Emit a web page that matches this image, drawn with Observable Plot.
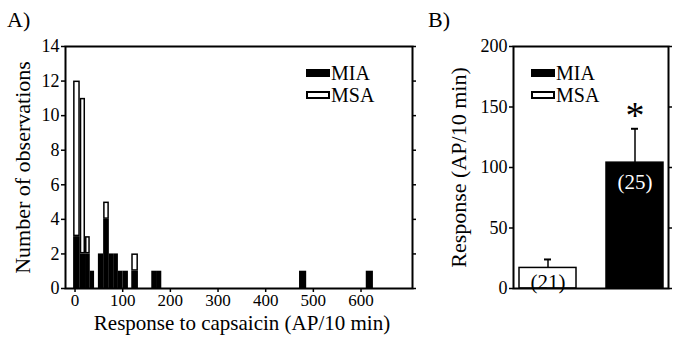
<!DOCTYPE html>
<html>
<head>
<meta charset="utf-8">
<script src="https://cdn.jsdelivr.net/npm/d3@7"></script>
<script src="https://cdn.jsdelivr.net/npm/@observablehq/plot@0.6"></script>
<style>
  html, body { margin: 0; padding: 0; background: #fff; }
  #root { position: relative; width: 678px; height: 337px; font-family: "Liberation Serif", "Times New Roman", serif; color: #000; }
  .panel { position: absolute; top: 0; }
  .panel svg, .panel svg text { font-family: "Liberation Serif", "Times New Roman", serif !important; }
  .plabel { position: absolute; font-size: 22px; line-height: 1; }
  .leg { position: absolute; font-size: 20px; line-height: 1; height: 20px; display: flex; align-items: center; }
  .sw { width: 24px; height: 8px; box-sizing: border-box; margin-right: 1px; }
  .sw.mia { background: #000; }
  .sw.msa { background: #fff; border: 2px solid #000; }
</style>
</head>
<body>
<div id="root"></div>
<script>
// ---------- Panel A: histogram (stacked: MIA bottom, MSA top) ----------
const binStart = [-3, 11, 22, 32, 49, 60, 72, 81, 91, 101, 119, 161, 171, 471, 611];
const binEnd   = [11, 22, 32, 41, 60, 72, 81, 91, 101, 112, 133, 171, 182, 486, 626];
const miaCount = [3, 2, 2, 1, 2, 4, 2, 2, 1, 1, 1, 1, 1, 1, 1];
const msaCount = [9, 9, 1, 0, 0, 1, 0, 0, 0, 0, 1, 0, 0, 0, 0];
const histXTicks = [0, 100, 200, 300, 400, 500, 600];
const histYTicks = [0, 2, 4, 6, 8, 10, 12, 14];

// ---------- Panel B: mean response ----------
const groups = ["MSA", "MIA"];
const meanResp = [17, 104];
const semResp = [7, 28];
const nCells = ["(21)", "(25)"];
const barYTicks = [0, 50, 100, 150, 200];

const rows = [];
binStart.forEach((s, i) => {
  if (miaCount[i] > 0) rows.push({x0: s, x1: binEnd[i], y1: 0, y2: miaCount[i], series: "MIA"});
  if (msaCount[i] > 0) rows.push({x0: s, x1: binEnd[i], y1: miaCount[i], y2: miaCount[i] + msaCount[i], series: "MSA"});
});

const font = {fontFamily: "'Liberation Serif', 'Times New Roman', serif", fontSize: "17px", color: "#000", background: "#fff", overflow: "visible"};

const plotA = Plot.plot({
  width: 420, height: 337,
  marginLeft: 65, marginRight: 8, marginTop: 46, marginBottom: 49,
  style: font,
  x: {domain: [-20, 708]},
  y: {domain: [0, 14]},
  marks: [
    Plot.rect(rows.filter(d => d.series === "MIA"), {x1: "x0", x2: "x1", y1: "y1", y2: "y2", fill: "#000"}),
    Plot.rect(rows.filter(d => d.series === "MSA"), {x1: "x0", x2: "x1", y1: "y1", y2: "y2", fill: "#fff", stroke: "#000", strokeWidth: 1.5, inset: 0.75}),
    Plot.axisX({ticks: histXTicks, tickSize: 4, tickPadding: 1, fontSize: 17, label: null, strokeWidth: 1.5}),
    Plot.axisY({ticks: histYTicks, tickSize: 4, tickPadding: 2, fontSize: 18, label: null, strokeWidth: 1.5}),
    Plot.axisY({anchor: "right", ticks: histYTicks, tickSize: 3, tickFormat: () => "", label: null, strokeWidth: 1.5}),
    Plot.frame({stroke: "#000", strokeWidth: 2}),
    Plot.text(["Number of observations"], {frameAnchor: "left", rotate: -90, dx: -43, textAnchor: "middle", lineAnchor: "middle", fontSize: 22}),
    Plot.text(["Response to capsaicin (AP/10 min)"], {frameAnchor: "bottom", dy: 35, dx: 3, textAnchor: "middle", lineAnchor: "middle", fontSize: 21})
  ]
});

const barData = groups.map((g, i) => ({group: g, mean: meanResp[i], top: meanResp[i] + semResp[i], n: nCells[i]}));

const plotB = Plot.plot({
  width: 258, height: 337,
  marginLeft: 93, marginRight: 10, marginTop: 46, marginBottom: 49,
  style: font,
  x: {domain: groups, paddingInner: 0.345, paddingOuter: 0.063, axis: null},
  y: {domain: [0, 200]},
  marks: [
    Plot.ruleX(barData, {x: "group", y1: "mean", y2: "top", stroke: "#000", strokeWidth: 1.5}),
    Plot.tickY(barData, {x: "group", y: "top", stroke: "#000", strokeWidth: 2, insetLeft: 25, insetRight: 25}),
    Plot.barY(barData, {x: "group", y: "mean", fill: d => d.group === "MIA" ? "#000" : "#fff", stroke: "#000", strokeWidth: 1.5}),
    Plot.text(barData.filter(d => d.group === "MSA"), {x: "group", y: 0, text: "n", lineAnchor: "bottom", dy: 0, fontSize: 21, fill: "#000"}),
    Plot.text(barData.filter(d => d.group === "MIA"), {x: "group", y: "mean", text: "n", lineAnchor: "top", dy: 11, fontSize: 21, fill: "#fff"}),
    Plot.text(barData.filter(d => d.group === "MIA"), {x: "group", y: 150, text: () => "*", lineAnchor: "middle", dy: 9, fontSize: 38, fill: "#000"}),
    Plot.axisY({ticks: barYTicks, tickSize: 4, tickPadding: 2, fontSize: 18, label: null, strokeWidth: 1.5}),
    Plot.axisY({anchor: "right", ticks: barYTicks, tickSize: 3, tickFormat: () => "", label: null, strokeWidth: 1.5}),
    Plot.frame({stroke: "#000", strokeWidth: 2}),
    Plot.text(["Response (AP/10 min)"], {frameAnchor: "left", rotate: -90, dx: -55, textAnchor: "middle", lineAnchor: "middle", fontSize: 22})
  ]
});

const root = document.getElementById("root");
const pa = document.createElement("div"); pa.className = "panel"; pa.style.left = "0px"; pa.appendChild(plotA); root.appendChild(pa);
const pb = document.createElement("div"); pb.className = "panel"; pb.style.left = "420px"; pb.appendChild(plotB); root.appendChild(pb);

function addDiv(cls, html, left, top) {
  const d = document.createElement("div");
  d.className = cls; d.innerHTML = html;
  d.style.left = left + "px"; d.style.top = top + "px";
  root.appendChild(d);
}
addDiv("plabel", "A)", 7, 9);
addDiv("plabel", "B)", 428, 9);
// legends
addDiv("leg", '<div class="sw mia"></div>MIA', 306, 63);
addDiv("leg", '<div class="sw msa"></div>MSA', 306, 85);
addDiv("leg", '<div class="sw mia"></div>MIA', 531, 63);
addDiv("leg", '<div class="sw msa"></div>MSA', 531, 85);
</script>
</body>
</html>
